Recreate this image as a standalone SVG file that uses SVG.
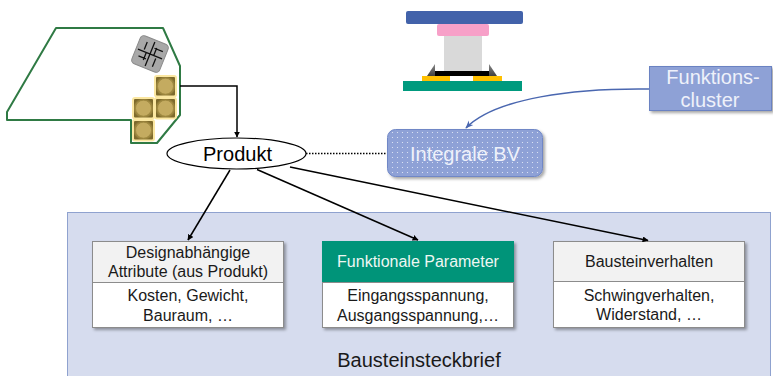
<svg xmlns="http://www.w3.org/2000/svg" width="773" height="376" viewBox="0 0 773 376">
  <defs>
    <style>
      text { font-family: "Liberation Sans", Arial, sans-serif; }
      .lbl { font-size: 16px; fill: #1a1a1a; text-anchor: middle; }
      .big { font-size: 20px; text-anchor: middle; }
      .light { fill: #eef1fa; }
      .card { stroke: #8c8c8c; stroke-width: 1; }
      .conn { fill: none; stroke: #000; stroke-width: 1.5; }
      .pad-frame { fill: #fbe7a1; }
      .pad-core { fill: url(#padGrad); }
    </style>
    <marker id="arrow" viewBox="0 0 10 10" refX="9" refY="5" markerWidth="6" markerHeight="6" orient="auto" markerUnits="userSpaceOnUse">
      <path d="M0,0 L10,5 L0,10 z" fill="#000"/>
    </marker>
    <marker id="arrowBlue" viewBox="0 0 10 10" refX="9" refY="5" markerWidth="8" markerHeight="8" orient="auto" markerUnits="userSpaceOnUse">
      <path d="M0,1 L10,5 L0,9 L3,5 z" fill="#4a67b0"/>
    </marker>
    <filter id="shadow" x="-10%" y="-10%" width="125%" height="130%">
      <feDropShadow dx="2" dy="2" stdDeviation="1.5" flood-color="#000" flood-opacity="0.35"/>
    </filter>
    <pattern id="dots" width="5" height="5" patternUnits="userSpaceOnUse">
      <rect width="5" height="5" fill="#8ea1d6"/>
      <circle cx="2.5" cy="2.5" r="0.6" fill="#e6ebf8"/>
    </pattern>
    <radialGradient id="padGrad" cx="50%" cy="50%" r="55%">
      <stop offset="0" stop-color="#c8b26a"/>
      <stop offset="0.7" stop-color="#b89e4e"/>
      <stop offset="1" stop-color="#7d6a2c"/>
    </radialGradient>
    <linearGradient id="wedge" x1="0" y1="0" x2="0" y2="1">
      <stop offset="0" stop-color="#8a8a8a"/>
      <stop offset="1" stop-color="#404040"/>
    </linearGradient>
  </defs>

  <!-- Bausteinsteckbrief panel -->
  <g id="steckbrief">
    <rect x="67.5" y="212.5" width="703" height="170" fill="#d6dcee" stroke="#8fa2cf" stroke-width="1"/>
    <text class="big" x="419" y="367" fill="#1a1a1a">Bausteinsteckbrief</text>
  </g>

  <!-- PCB with die and solder pads -->
  <g id="pcb">
    <polygon points="56,28 163,28 180,66 180,115 157,143 131,143 131,120 7,120 7,112" fill="#fff" stroke="#2f7a44" stroke-width="2" stroke-linejoin="round"/>
    <g transform="rotate(22 150 54)">
      <rect x="135" y="39" width="30" height="30" rx="4" fill="#a8a8a8" stroke="#8a8a8a" stroke-width="1"/>
      <path d="M150,41 V67 M137,54 H163 M143,44 V52 M157,56 V65 M140,60 H148 M152,47 H161 M146,54 L146,62 M154,46 L154,54" stroke="#111" stroke-width="1.3" fill="none"/>
    </g>
    <g id="pads">
      <rect class="pad-frame" x="154" y="75" width="23" height="22.5" rx="3"/>
      <rect class="pad-core" x="156" y="77" width="19" height="18.5" rx="1"/>
      <circle cx="165.5" cy="86.2" r="8" fill="#c4ab60" stroke="#8f7a35" stroke-width="0.6"/>
      <rect class="pad-frame" x="154" y="97" width="23" height="22.5" rx="3"/>
      <rect class="pad-core" x="156" y="99" width="19" height="18.5" rx="1"/>
      <circle cx="165.5" cy="108.2" r="8" fill="#c4ab60" stroke="#8f7a35" stroke-width="0.6"/>
      <rect class="pad-frame" x="132" y="97" width="23" height="22.5" rx="3"/>
      <rect class="pad-core" x="134" y="99" width="19" height="18.5" rx="1"/>
      <circle cx="143.5" cy="108.2" r="8" fill="#c4ab60" stroke="#8f7a35" stroke-width="0.6"/>
      <rect class="pad-frame" x="132" y="119" width="23" height="22.5" rx="3"/>
      <rect class="pad-core" x="134" y="121" width="19" height="18.5" rx="1"/>
      <circle cx="143.5" cy="130.2" r="8" fill="#c4ab60" stroke="#8f7a35" stroke-width="0.6"/>
    </g>
  </g>

  <!-- Module cross-section -->
  <g id="modul">
    <rect x="406" y="11" width="117" height="13" rx="2" fill="#4262aa"/>
    <rect x="437" y="24" width="52" height="12" rx="2" fill="#f7a0c8"/>
    <rect x="444" y="36" width="38" height="35" fill="#d9d9d9"/>
    <polygon points="427,76 435,64 435,76" fill="url(#wedge)"/>
    <polygon points="489,64 497,76 489,76" fill="url(#wedge)"/>
    <rect x="435" y="71" width="54" height="5" fill="#000"/>
    <rect x="422" y="76" width="28" height="5" fill="#ffc000"/>
    <rect x="473" y="76" width="29" height="5" fill="#ffc000"/>
    <rect x="403" y="81" width="119" height="10" fill="#009a7e"/>
  </g>

  <!-- Funktionscluster -->
  <g id="funktionscluster">
    <rect x="649.5" y="66.5" width="122" height="44" fill="#8ea1d6" stroke="#6a82c2" stroke-width="1" filter="url(#shadow)"/>
    <text class="big light" x="713" y="84">Funktions-</text>
    <text class="big light" x="710" y="107">cluster</text>
  </g>

  <!-- Integrale BV -->
  <g id="integrale-bv">
    <rect x="387.5" y="129.5" width="155" height="47" rx="8" fill="url(#dots)" stroke="#6f87c6" stroke-width="1" filter="url(#shadow)"/>
    <text class="big light" x="465" y="161">Integrale BV</text>
  </g>

  <!-- Produkt -->
  <g id="produkt">
    <ellipse cx="236.5" cy="153.5" rx="69.5" ry="15.5" fill="#fff" stroke="#000" stroke-width="1.2"/>
    <text class="big" x="237.5" y="161" fill="#000">Produkt</text>
  </g>

  <!-- Cards -->
  <g id="designattribute" filter="url(#shadow)">
    <rect class="card" x="92.5" y="241.5" width="191" height="41" fill="#f2f2f2"/>
    <rect class="card" x="92.5" y="282.5" width="191" height="45" fill="#fff"/>
  </g>
  <g>
    <text class="lbl" x="188" y="258">Designabhängige</text>
    <text class="lbl" x="188" y="277">Attribute (aus Produkt)</text>
    <text class="lbl" x="188" y="301">Kosten, Gewicht,</text>
    <text class="lbl" x="188" y="321">Bauraum, …</text>
  </g>

  <g id="funktionale-parameter" filter="url(#shadow)">
    <rect x="322" y="241" width="192" height="41" fill="#009479"/>
    <rect class="card" x="322.5" y="282.5" width="191" height="45" fill="#fff"/>
  </g>
  <g>
    <text class="lbl" x="418" y="267" fill="#eef7f3" style="fill:#eef7f3">Funktionale Parameter</text>
    <text class="lbl" x="418" y="301">Eingangsspannung,</text>
    <text class="lbl" x="418" y="321">Ausgangsspannung,…</text>
  </g>

  <g id="bausteinverhalten" filter="url(#shadow)">
    <rect class="card" x="553.5" y="241.5" width="191" height="40" fill="#f2f2f2"/>
    <rect class="card" x="553.5" y="281.5" width="191" height="46" fill="#fff"/>
  </g>
  <g>
    <text class="lbl" x="649" y="267">Bausteinverhalten</text>
    <text class="lbl" x="649" y="301">Schwingverhalten,</text>
    <text class="lbl" x="649" y="320">Widerstand, …</text>
  </g>

  <!-- Connectors -->
  <g id="connectors">
    <path class="conn" d="M180,86 H237 V137" marker-end="url(#arrow)"/>
    <line x1="306" y1="153.5" x2="387" y2="153.5" stroke="#000" stroke-width="1.5" stroke-dasharray="1.5 1.5"/>
    <path d="M649,89 C575,88 495,98 466,128" fill="none" stroke="#4a67b0" stroke-width="1.5" marker-end="url(#arrowBlue)"/>
    <line class="conn" x1="230" y1="170" x2="188" y2="240" marker-end="url(#arrow)"/>
    <line class="conn" x1="257" y1="169.5" x2="418" y2="240" marker-end="url(#arrow)"/>
    <line class="conn" x1="290" y1="167" x2="648" y2="240.5" marker-end="url(#arrow)"/>
  </g>
</svg>
